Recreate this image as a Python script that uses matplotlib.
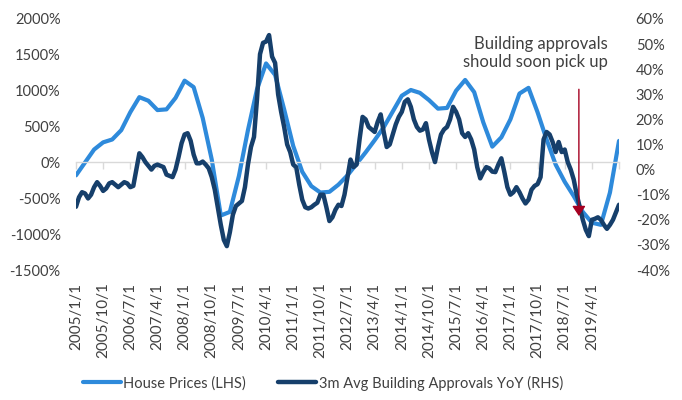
import matplotlib
matplotlib.use("Agg")
import matplotlib.pyplot as plt
from matplotlib import transforms

plt.rcParams['font.family'] = ['Lato', 'DejaVu Sans']

# ---- data ----
tick_labels = ["2005/1/1", "2005/10/1", "2006/7/1", "2007/4/1", "2008/1/1", "2008/10/1",
               "2009/7/1", "2010/4/1", "2011/1/1", "2011/10/1", "2012/7/1", "2013/4/1",
               "2014/1/1", "2014/10/1", "2015/7/1", "2016/4/1", "2017/1/1", "2017/10/1",
               "2018/7/1", "2019/4/1"]

# House prices (LHS), quarterly (month index from 2005/1)
hp_months = list(range(0, 181, 3))
hp_values = [-180, 0, 180, 280, 320, 450, 700, 910, 860, 730, 740, 900, 1140, 1050,
             620, 40, -740, -690, -190, 450, 1020, 1380, 1220, 740, 230, -130, -330,
             -420, -410, -310, -180, -20, 140, 310, 490, 710, 930, 1010, 970, 870, 750,
             760, 1000, 1150, 980, 560, 220, 350, 600, 960, 1040, 700, 320, -30, -270,
             -470, -690, -840, -870, -420, 300]

# 3m avg building approvals YoY (RHS), monthly
ba_months = list(range(0, 181))
ba_values = [-14.8, -11, -9, -9.5, -11.5, -10, -7, -5, -6.5, -8.5,
             -7.5, -5.5, -5, -6, -7, -6, -5, -5.5, -7, -6.5,
             0, 6.5, 5, 3, 1.5, 0, 1.5, 2, 1.5, 1,
             -2, -2.5, -3, 0, 5, 10.5, 14, 14.5, 11.5, 6,
             2.5, 2.5, 3.2, 2, 0.5, -3, -8, -15, -22, -28,
             -30.5, -25, -18, -14.5, -13.5, -12.5, -7, 2, 9, 13,
             28, 46, 50.5, 51, 53.6, 45, 42.5, 30, 23, 17,
             10, 7, 2, 1, -6, -12, -15, -15.5, -15, -14,
             -13.2, -10, -10, -15, -20.5, -19, -16, -14, -14.5, -10,
             -3, 4, 1, 2, 12, 21, 20, 17, 16, 15,
             19, 22, 15, 9, 10, 14, 18, 21, 23, 27,
             28, 25, 20, 17, 15.5, 16, 18.5, 12, 7, 3,
             9, 14, 16, 17, 20, 25, 23, 20, 14.5, 13,
             14.5, 12, 8, 1, -3.5, -1, 1, 0.5, -0.8, -1,
             2, 4.5, -1, -7, -10, -9, -7, -9, -11.5, -13.5,
             -12, -8, -6.5, -5.8, -3, 12, 15, 14, 11, 7,
             11, 7, 8, 3, 0, -4, -10, -15, -20, -24,
             -26.5, -20, -19.6, -19, -20, -22, -23.6, -22, -20, -17,
             -14]

left_ticks = [2000, 1500, 1000, 500, 0, -500, -1000, -1500]
right_ticks = [60, 50, 40, 30, 20, 10, 0, -10, -20, -30, -40]

light = '#2E8ADB'
dark = '#163F6B'
txt = '#404040'

fig = plt.figure(figsize=(6.82, 4.0), dpi=100)
ax = fig.add_axes([76/682, 1-270/400, (619-76)/682, 251/400])
ax2 = ax.twinx()

l1, = ax.plot(hp_months, hp_values, color=light, lw=3.0, solid_capstyle='round',
              label='House Prices (LHS)')
l2, = ax2.plot(ba_months, ba_values, color=dark, lw=3.2, solid_capstyle='round',
               label='3m Avg Building Approvals YoY (RHS)')

ax.set_xlim(0, 180)
ax.set_ylim(-1500, 2000)
ax2.set_ylim(-40, 60)

for a in (ax, ax2):
    for s in ['top', 'left', 'right', 'bottom']:
        a.spines[s].set_visible(False)
ax.spines['bottom'].set_visible(True)
ax.spines['bottom'].set_position(('data', 0))
ax.spines['bottom'].set_color('#D9D9D9')
ax.spines['bottom'].set_linewidth(1.0)

xt = list(range(0, 181, 9))
ax.set_xticks(xt)
ax.tick_params(axis='x', direction='out', length=5, color='#D9D9D9', width=1,
               labelbottom=False)

ax.set_yticks(left_ticks)
ax.set_yticklabels([f"{v}%" for v in left_ticks])
ax.tick_params(axis='y', length=0, pad=11, labelsize=10.5, labelcolor=txt)
ax2.set_yticks(right_ticks)
ax2.set_yticklabels([f"{v}%" for v in right_ticks])
ax2.tick_params(axis='y', length=0, pad=12, labelsize=10.5, labelcolor=txt)

trans = transforms.blended_transform_factory(ax.transData, ax.transAxes)
for pos, lab in zip(xt, tick_labels):
    ax.text(pos, -0.05, lab, transform=trans, rotation=90, ha='center', va='top',
            fontsize=11, color=txt)

# annotation
ax2.annotate('', xy=(166.7, -18.5), xytext=(166.7, 32),
             arrowprops=dict(arrowstyle='-|>,head_length=0.6,head_width=0.4',
                             color='#A50021', lw=1.0, shrinkA=0, shrinkB=0))
fig.text(608/682, 1-53/400, "Building approvals\nshould soon pick up",
         ha='right', va='center', fontsize=12, color=txt, linespacing=1.2)

fig.legend(handles=[l1, l2], loc='center', bbox_to_anchor=(323/682, 1-383/400),
           ncol=2, frameon=False, fontsize=10.5, handlelength=2.6, handletextpad=0.2,
           columnspacing=2.2, labelcolor=txt)

fig.savefig('out.png', dpi=100)
